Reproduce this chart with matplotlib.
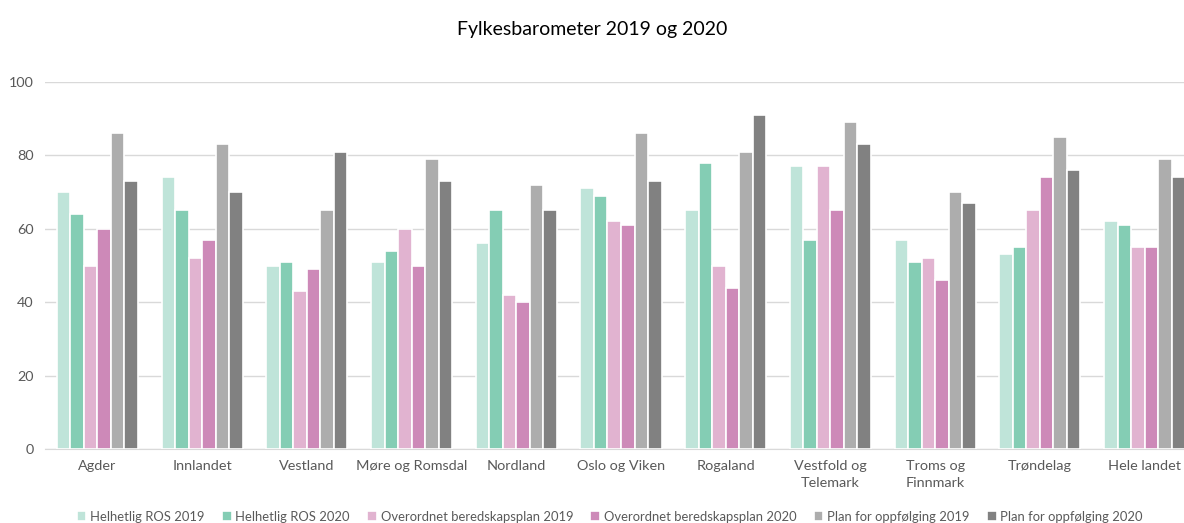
import numpy as np
import matplotlib.pyplot as plt

plt.rcParams['font.family'] = ['Lato', 'DejaVu Sans']

regions = ['Agder', 'Innlandet', 'Vestland', 'Møre og Romsdal', 'Nordland',
           'Oslo og Viken', 'Rogaland', 'Vestfold og\nTelemark', 'Troms og\nFinnmark',
           'Trøndelag', 'Hele landet']

series_names = ['Helhetlig ROS 2019', 'Helhetlig ROS 2020',
                'Overordnet beredskapsplan 2019', 'Overordnet beredskapsplan 2020',
                'Plan for oppfølging 2019', 'Plan for oppfølging 2020']

ros_2019 = [70, 74, 50, 51, 56, 71, 65, 77, 57, 53, 62]
ros_2020 = [64, 65, 51, 54, 65, 69, 78, 57, 51, 55, 61]
plan_2019 = [50, 52, 43, 60, 42, 62, 50, 77, 52, 65, 55]
plan_2020 = [60, 57, 49, 50, 40, 61, 44, 65, 46, 74, 55]
oppf_2019 = [86, 83, 65, 79, 72, 86, 81, 89, 70, 85, 79]
oppf_2020 = [73, 70, 81, 73, 65, 73, 91, 83, 67, 76, 74]

colors = ['#bfe4d9', '#84cdb4', '#e1b3d0', '#cd89b8', '#adadad', '#818181']

fig = plt.figure(figsize=(11.84, 5.23), dpi=100)
ax = fig.add_axes([45 / 1184, 74 / 523, 1152 / 1184, 367 / 523])

x = np.arange(len(regions))
w = 0.129
data = [ros_2019, ros_2020, plan_2019, plan_2020, oppf_2019, oppf_2020]
for i, (vals, name) in enumerate(zip(data, series_names)):
    ax.bar(x + (i - 2.5) * w, vals, width=w, color=colors[i], label=name,
           edgecolor='white', linewidth=1.2, zorder=3)

ax.set_xlim(-0.5, len(regions) - 0.5)
ax.set_ylim(0, 100)
ax.set_yticks(range(0, 101, 20))
ax.set_xticks(x)
ax.set_xticklabels(regions, fontsize=10.4, color='#595959', linespacing=1.5)
ax.tick_params(axis='y', labelsize=10.4, labelcolor='#595959', length=0, pad=8)
ax.tick_params(axis='x', length=0, pad=8)
ax.grid(axis='y', color='#d9d9d9', linewidth=1, zorder=0)
for s in ['top', 'right', 'left']:
    ax.spines[s].set_visible(False)
ax.spines['bottom'].set_color('#d9d9d9')

fig.suptitle('Fylkesbarometer 2019 og 2020', y=0.96, fontsize=14, color='#000000')

fig.legend(loc='lower center', bbox_to_anchor=(0.515, -0.022), ncol=6, frameon=False,
           fontsize=9.4, labelcolor='#595959', handlelength=0.75, handleheight=0.75,
           handletextpad=0.3, columnspacing=1.3)

fig.savefig('out.png', dpi=100)
